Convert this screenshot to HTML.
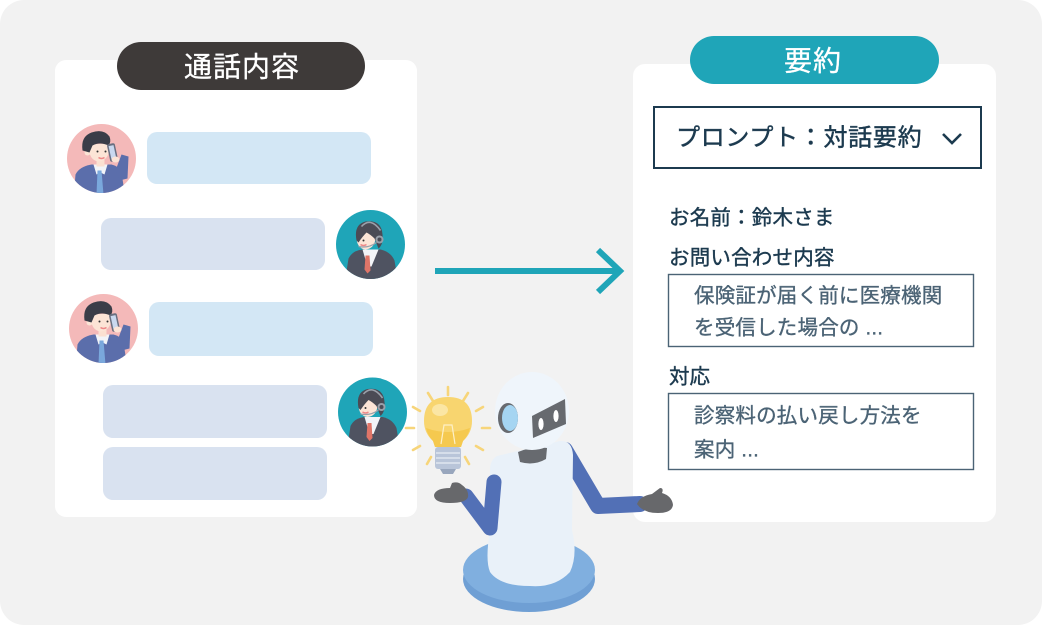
<!DOCTYPE html>
<html><head><meta charset="utf-8"><style>
html,body{margin:0;padding:0;background:#fff;}
svg{display:block;}
text{font-family:"Liberation Sans","Noto Sans CJK JP",sans-serif;}
</style></head><body>
<svg width="1042" height="625" viewBox="0 0 1042 625" xmlns="http://www.w3.org/2000/svg">
<defs>
<clipPath id="c1"><circle cx="0" cy="0" r="34.5"/></clipPath>
</defs>
<rect x="0" y="0" width="1042" height="625" rx="24" fill="#f2f2f2"/>

<!-- left panel -->
<rect x="55" y="60" width="362" height="457" rx="11" fill="#fff"/>
<rect x="117" y="42" width="248" height="48" rx="24" fill="#3e3a39"/>
<text x="242" y="67" font-size="28" fill="#fff" stroke="#fff" stroke-width="0.3" text-anchor="middle" dominant-baseline="central" letter-spacing="1">通話内容</text>

<!-- bubbles -->
<rect x="147" y="132" width="224" height="52" rx="10" fill="#d3e7f5"/>
<rect x="101" y="218" width="224" height="52" rx="10" fill="#d9e2f0"/>
<rect x="149" y="302" width="224" height="54" rx="10" fill="#d3e7f5"/>
<rect x="103" y="385" width="224" height="53" rx="10" fill="#d9e2f0"/>
<rect x="103" y="447" width="224" height="53" rx="10" fill="#d9e2f0"/>

<!-- man avatar template -->
<g id="man" transform="translate(101.5,158.5)">
 <circle r="34.5" fill="#f4b9b9"/>
 <g clip-path="url(#c1)">
  <path d="M-28,40 L-26,16 Q-22,8 -10,6 L10,6 Q18,8 20,14 L24,40 Z" fill="#5b6eab"/>
  <path d="M14,12 L20,-4 L27,-2 L26,20 L18,22 Z" fill="#5b6eab"/>
  <path d="M-8,6 L6,6 L3,16 L-1,14 L-5,16 Z" fill="#f2f4f8"/>
  <path d="M-4,12 L0,12 L2,36 L-1,40 L-5,36 Z" fill="#7aa8dc"/>
  <rect x="-5" y="-4" width="8" height="12" fill="#fbe0d1"/>
  <path d="M-13,-14 Q-13,2 -3,3 Q7,2 8,-10 L8,-15 Z" fill="#fce4d6"/>
  <circle cx="-14" cy="-6" r="3" fill="#fce4d6"/>
  <path d="M-19,-8 Q-21,-22 -10,-26 Q2,-30 8,-22 Q10,-17 7,-13 Q-2,-17 -9,-13 L-12,-6 Z" fill="#3a3d48"/>
  <circle cx="-4" cy="-7" r="1" fill="#333"/>
  <circle cx="4" cy="-7" r="1" fill="#333"/>
  <path d="M-3,-1 Q0,1 3,-1" stroke="#e88" stroke-width="1.5" fill="none"/>
  <rect x="7" y="-15" width="8" height="18" rx="2" fill="#6a6f80" transform="rotate(-12 11 -6)"/>
  <rect x="8.5" y="-13" width="5" height="13" fill="#c9d8ef" transform="rotate(-12 11 -6)"/>
  <ellipse cx="14" cy="1" rx="4" ry="3" fill="#fce4d6"/>
 </g>
</g>
<use href="#man" x="2" y="170"/>

<!-- woman avatar template -->
<g id="woman" transform="translate(370.5,244.5)">
 <circle r="34.5" fill="#1fa5b8"/>
 <g clip-path="url(#c1)">
  <path d="M-26,40 L-22,14 Q-18,6 -8,5 L10,5 Q20,7 24,16 L28,40 Z" fill="#4f5361"/>
  <path d="M-8,5 L8,5 L1,22 L-3,22 Z" fill="#f2f4f8"/>
  <path d="M-5,11 L-1,11 L0,26 L-3,29 L-6,25 Z" fill="#e07568"/>
  <path d="M-14,-8 Q-14,4 -5,5 Q4,4 5,-6 L5,-12 L-13,-12 Z" fill="#fce4d6"/>
  <path d="M-14,-4 Q-17,-20 -5,-23 Q11,-25 12,-10 Q13,0 8,4 L4,-6 Q0,-10 -4,-12 Q-8,-8 -12,-2 Z" fill="#4b4b55"/>
  <path d="M-9,-18 Q0,-28 10,-14" stroke="#9aa0aa" stroke-width="1.6" fill="none"/>
  <circle cx="9" cy="-5" r="4" fill="#9aa0aa"/>
  <circle cx="9" cy="-5" r="2" fill="#4b4b55"/>
  <path d="M6,-2 Q-2,4 -12,2" stroke="#9aa0aa" stroke-width="1.2" fill="none"/>
  <circle cx="-7" cy="-4" r="1" fill="#333"/>
  <path d="M-10,0 Q-7,2 -4,0" stroke="#e88" stroke-width="1.4" fill="none"/>
 </g>
</g>
<use href="#woman" x="2" y="167.5"/>

<!-- arrow -->
<line x1="435" y1="271" x2="619" y2="271" stroke="#1fa5b8" stroke-width="6"/>
<polyline points="598,250 620,271 598,292" fill="none" stroke="#1fa5b8" stroke-width="6"/>

<!-- right panel -->
<rect x="633" y="64" width="363" height="458" rx="12" fill="#fff"/>
<rect x="690" y="36" width="249" height="48" rx="24" fill="#1fa5b8"/>
<text x="813" y="61" font-size="28" fill="#fff" stroke="#fff" stroke-width="0.3" text-anchor="middle" dominant-baseline="central" letter-spacing="1">要約</text>

<rect x="654" y="107" width="327" height="61" fill="#fff" stroke="#1c3a4f" stroke-width="2"/>
<text x="676" y="138" font-size="24" fill="#1c3a4f" stroke="#1c3a4f" stroke-width="0.45" dominant-baseline="central" letter-spacing="0.7">プロンプト：対話要約</text>
<polyline points="943,134 952,143 961,134" fill="none" stroke="#1c3a4f" stroke-width="2.6"/>

<g fill="#1c3a4f" stroke="#1c3a4f" stroke-width="0.4">
<text x="669" y="218" font-size="20.5" dominant-baseline="central" letter-spacing="0.2">お名前：鈴木さま</text>
<text x="669" y="258" font-size="20.5" dominant-baseline="central" letter-spacing="0.2">お問い合わせ内容</text>
<text x="669" y="377" font-size="20.5" dominant-baseline="central">対応</text>
</g>
<rect x="668.5" y="274.5" width="305" height="72" fill="#fff" stroke="#4b6375" stroke-width="1.4"/>
<rect x="668.5" y="393.5" width="305" height="76" fill="#fff" stroke="#4b6375" stroke-width="1.4"/>
<g fill="#4b6375" stroke="#4b6375" stroke-width="0.35">
<text x="694" y="296" font-size="20.5" dominant-baseline="central" letter-spacing="0.2">保険証が届く前に医療機関</text>
<text x="694" y="328" font-size="20.5" dominant-baseline="central" letter-spacing="0.2">を受信した場合の ...</text>
<text x="694" y="416" font-size="20.5" dominant-baseline="central" letter-spacing="0.2">診察料の払い戻し方法を</text>
<text x="694" y="450" font-size="20.5" dominant-baseline="central" letter-spacing="0.2">案内 ...</text>
</g>

<!-- robot base -->
<ellipse cx="529" cy="579" rx="66" ry="33" fill="#6f9fd4"/>
<ellipse cx="529" cy="570" rx="66" ry="33" fill="#80afdf"/>
<!-- right arm (behind body) -->
<polyline points="565,450 598,506 640,504" fill="none" stroke="#5270b6" stroke-width="16" stroke-linejoin="round" stroke-linecap="round"/>
<path d="M637,504 Q640,496 652,494 L660,488 Q664,488 662,493 Q672,496 673,505 Q672,513 658,513 Q643,513 637,504 Z" fill="#67686b"/>
<!-- body -->
<path d="M497,456 L560,441 Q572,440 573,455 L572,530 Q578,555 570,572 Q555,588 530,586 Q500,586 490,572 Q485,560 490,530 L490,470 Q490,460 497,456 Z" fill="#e9f1f9"/>
<!-- neck -->
<path d="M518,452 Q532,446 547,448 L546,459 Q534,466 520,462 Z" fill="#676a6f"/>
<!-- left arm -->
<polyline points="494,482 490,528 466,496" fill="none" stroke="#5270b6" stroke-width="15" stroke-linejoin="round" stroke-linecap="round"/>
<path d="M434,495 Q436,488 450,488 L452,483 Q458,481 462,485 Q469,490 468,497 Q466,503 450,503 Q434,503 434,495 Z" fill="#67686b"/>
<!-- head -->
<ellipse cx="532" cy="411" rx="37" ry="39" fill="#eff5fb"/>
<ellipse cx="508" cy="418" rx="10" ry="15" fill="#676a6f"/>
<ellipse cx="510" cy="418" rx="8" ry="13" fill="#a5d5f2"/>
<polygon points="532,416 565,399 566,424 533,438" fill="#676a6f"/>
<ellipse cx="541" cy="424" rx="2.6" ry="6" fill="#fff"/>
<ellipse cx="556" cy="416" rx="2.6" ry="6" fill="#fff"/>

<!-- lightbulb rays -->
<g stroke="#f7d57a" stroke-width="2.6" stroke-linecap="round">
 <line x1="448" y1="387" x2="448" y2="395"/>
 <line x1="428" y1="393" x2="433" y2="401"/>
 <line x1="468" y1="393" x2="463" y2="401"/>
 <line x1="413" y1="407" x2="420" y2="411"/>
 <line x1="476" y1="411" x2="483" y2="407"/>
 <line x1="406" y1="428" x2="414" y2="428"/>
 <line x1="482" y1="428" x2="490" y2="428"/>
 <line x1="413" y1="450" x2="420" y2="446"/>
 <line x1="476" y1="446" x2="483" y2="450"/>
 <line x1="427" y1="464" x2="431" y2="457"/>
 <line x1="469" y1="464" x2="465" y2="457"/>
</g>
<!-- bulb -->
<path d="M448,397 Q472,397 472,421 Q472,433 463,441 L461,447 L435,447 L433,441 Q424,433 424,421 Q424,397 448,397 Z" fill="#f8d56f"/>
<path d="M426,428 Q448,436 470,428 Q468,436 463,441 L461,447 L435,447 L433,441 Q428,436 426,428 Z" fill="#f5c94f"/>
<ellipse cx="440" cy="410" rx="8" ry="6" fill="#fbe6a4"/>
<path d="M441,444 L444,425 L452,425 L455,444" stroke="#fdf0c8" stroke-width="1.2" fill="none"/>
<rect x="435" y="447" width="26" height="22" rx="3" fill="#b9c5d9"/>
<g stroke="#dfe6f0" stroke-width="1.5"><line x1="436" y1="453" x2="460" y2="453"/><line x1="436" y1="458" x2="460" y2="458"/><line x1="436" y1="463" x2="460" y2="463"/></g>
<path d="M440,469 L456,469 L453,474 L443,474 Z" fill="#98a6bd"/>
</svg>
</body></html>
